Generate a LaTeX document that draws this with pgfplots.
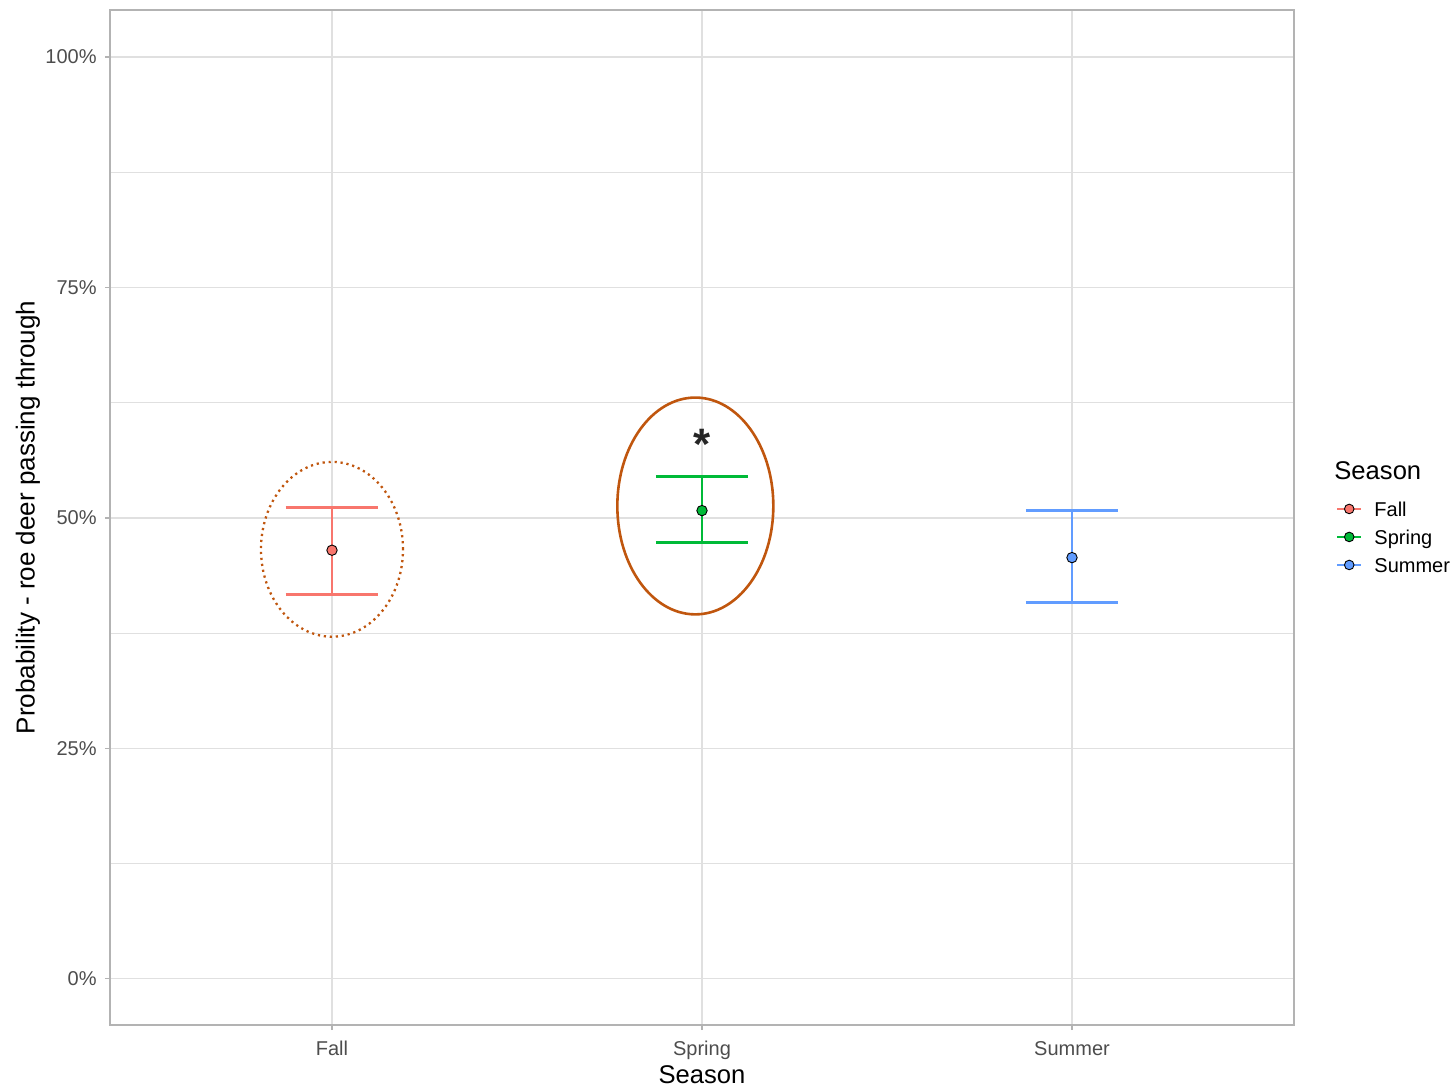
\documentclass[border=0pt]{standalone}
\usepackage{pgfplots}
\pgfplotsset{compat=1.18}
\usepackage{fontspec}
\setmainfont{Liberation Sans}

\definecolor{fallc}{HTML}{F8766D}
\definecolor{springc}{HTML}{00BA38}
\definecolor{summerc}{HTML}{619CFF}
\definecolor{ringc}{HTML}{C0560E}
\definecolor{gridc}{HTML}{E0E0E0}
\definecolor{framec}{HTML}{B3B3B3}
\definecolor{tickc}{HTML}{4D4D4D}

\begin{document}
\begin{tikzpicture}
\useasboundingbox (-55pt,-31pt) rectangle (671pt,512.5pt);
\begin{axis}[
  at={(0,0)}, anchor=south west,
  scale only axis, width=592pt, height=507.5pt,
  clip=false,
  unbounded coords=jump,
  xmin=0.4, xmax=3.6, ymin=-0.05, ymax=1.051,
  xtick={1,2,3}, xticklabels={Fall,Spring,Summer},
  ytick={0,0.25,0.5,0.75,1},
  yticklabels={0\%,25\%,50\%,75\%,100\%},
  minor ytick={0.125,0.375,0.625,0.875},
  grid=both,
  major grid style={gridc, line width=0.55pt},
  minor grid style={gridc, line width=0.45pt},
  axis line style={framec, line width=0.85pt},
  tick align=outside, xtick pos=left, ytick pos=left,
  major tick length=2.5pt, minor tick length=0pt,
  tick style={framec, line width=0.55pt},
  tick label style={font=\fontsize{10}{12}\selectfont, text=tickc, inner sep=0pt},
  xticklabel style={anchor=base, yshift=-12.6pt},
  yticklabel style={anchor=east, xshift=-4pt, text depth=0pt},
  xlabel={Season},
  ylabel={Probability - roe deer passing through},
  every axis x label/.style={at={(axis description cs:0.5,-0.049)}, anchor=center,
    inner sep=0pt, text depth=0pt, font=\fontsize{12.8}{15}\selectfont},
  every axis y label/.style={at={(axis description cs:-0.0693,0.5)}, rotate=90,
    anchor=center, inner sep=0pt, font=\fontsize{13}{15}\selectfont},
  legend style={at={(axis description cs:1.0355,0.5155)}, anchor=north west,
    draw=none, fill=none, inner sep=0pt, outer sep=0pt,
    row sep=6.8pt, column sep=6pt, font=\fontsize{10}{12}\selectfont,
    nodes={inner sep=0pt, text height=7.2pt, text depth=0pt}},
  legend cell align=left,
]

% confidence intervals: upper cap, stem, lower cap
\addplot[fallc, line width=1.35pt, forget plot] coordinates
  {(0.875,0.511) (1.125,0.511) (1,nan) (1,0.511) (1,0.417) (1,nan) (0.875,0.417) (1.125,0.417)};
\addplot[springc, line width=1.35pt, forget plot] coordinates
  {(1.875,0.545) (2.125,0.545) (2,nan) (2,0.545) (2,0.473) (2,nan) (1.875,0.473) (2.125,0.473)};
\addplot[summerc, line width=1.35pt, forget plot] coordinates
  {(2.875,0.508) (3.125,0.508) (3,nan) (3,0.508) (3,0.408) (3,nan) (2.875,0.408) (3.125,0.408)};

% point estimates
\addplot[only marks, mark=*, mark size=2.6pt, mark options={fill=fallc, draw=black, line width=0.45pt}, forget plot]
  coordinates {(1,0.465)};
\addplot[only marks, mark=*, mark size=2.6pt, mark options={fill=springc, draw=black, line width=0.45pt}, forget plot]
  coordinates {(2,0.508)};
\addplot[only marks, mark=*, mark size=2.6pt, mark options={fill=summerc, draw=black, line width=0.45pt}, forget plot]
  coordinates {(3,0.457)};

\addlegendimage{legend image code/.code={
  \draw[fallc, line width=1.2pt] (0pt,0pt) -- (12pt,0pt);
  \draw[fill=fallc, draw=black, line width=0.45pt] (6pt,0pt) circle (2.4pt);}}
\addlegendentry{Fall}
\addlegendimage{legend image code/.code={
  \draw[springc, line width=1.2pt] (0pt,0pt) -- (12pt,0pt);
  \draw[fill=springc, draw=black, line width=0.45pt] (6pt,0pt) circle (2.4pt);}}
\addlegendentry{Spring}
\addlegendimage{legend image code/.code={
  \draw[summerc, line width=1.2pt] (0pt,0pt) -- (12pt,0pt);
  \draw[fill=summerc, draw=black, line width=0.45pt] (6pt,0pt) circle (2.4pt);}}
\addlegendentry{Summer}

% highlighted seasons
\draw[ringc, line width=1.15pt, dash pattern=on 1.1pt off 1.9pt]
  (axis cs:1,0.466) ellipse [x radius=35.5pt, y radius=43.7pt];
\draw[ringc, line width=1.3pt]
  (axis cs:1.982,0.513) ellipse [x radius=39pt, y radius=54.2pt];
\node[anchor=base, inner sep=0pt, text=black!85, font=\bfseries\fontsize{22}{24}\selectfont]
  at (axis cs:2,0.563) {*};

% legend title
\node[anchor=west, inner sep=0pt, font=\fontsize{12.8}{15}\selectfont]
  at (axis description cs:1.0338,0.5458) {Season};
\end{axis}
\end{tikzpicture}
\end{document}
